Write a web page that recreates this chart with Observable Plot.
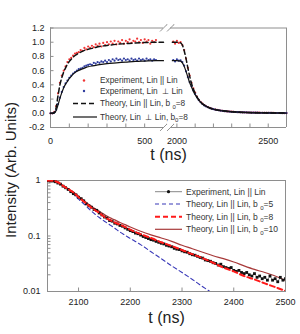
<!DOCTYPE html>
<html><head><meta charset="utf-8">
<script src="https://cdn.jsdelivr.net/npm/d3@7"></script>
<script src="https://cdn.jsdelivr.net/npm/@observablehq/plot@0.6"></script>
<style>
html,body{margin:0;padding:0;background:#fff;}
#wrap{position:relative;width:300px;height:334px;font-family:Arial,"Liberation Sans",sans-serif;color:#222;overflow:hidden;}
#top{position:absolute;left:0;top:0;}
#bot{position:absolute;left:0;top:165px;}
#ylab{position:absolute;left:10px;top:170px;transform:translate(-50%,-50%) rotate(-90deg);white-space:nowrap;font-size:15px;color:#222;}
</style></head><body>
<div id="wrap"><div id="top"></div><div id="bot"></div><div id="ylab">Intensity (Arb. Units)</div></div>
<script>
// ---------- top panel data ----------
const tL = [0,10,20,30,40,50,60,70,80,90,100,110,120,130,140,150,160,170,180,190,200,210,220,230,240,250,260,270,280,290,300,310,320,330,340,350,360,370,380,390,400,410,420,430,440,450,460,470,480,490,500,510,520,530,540,550,560];
const redL = [0.0,0.0,0.02,0.1,0.28,0.43,0.53,0.6,0.66,0.72,
  0.76,0.78,0.81,0.84,0.85,0.86,0.89,0.88,0.92,0.9,
  0.94,0.92,0.95,0.93,0.97,0.95,0.98,0.94,0.99,0.96,
  1.0,0.97,1.01,0.98,1.02,0.97,1.01,0.99,1.03,0.98,
  1.02,1.0,1.04,0.99,1.02,1.01,1.05,1.0,1.03,0.99,
  1.04,1.01,1.03,0.98,1.02,1.0,1.03];
const blueL = [0,0,0.01,0.05,0.13,0.22,0.3,0.37,0.42,0.46,
  0.5,0.53,0.56,0.58,0.6,0.62,0.63,0.64,0.66,0.67,
  0.68,0.69,0.68,0.71,0.7,0.72,0.71,0.73,0.72,0.74,
  0.72,0.75,0.73,0.76,0.74,0.77,0.75,0.76,0.74,0.77,
  0.75,0.76,0.74,0.77,0.75,0.76,0.74,0.77,0.75,0.76,
  0.74,0.77,0.75,0.76,0.74,0.76,0.75];
const tR = [1980,1990,2000,2010,2020,2030,2040,2050,2060,2070,2080,2090,2100,2110,2120,2130,2140,2150,2160,2170,2180,2190,2200,2210,2220,2230,2240,2250,2260,2270,2280,2290,2300,2310,2320,2330,2340,2350,2360,2370,2380,2390,2400,2410,2420,2430,2440,2450,2460,2470,2480,2490,2500,2510,2520,2530,2540,2550,2560,2570,2580,2590,2600];
const redR = [1.01,0.98,1.02,0.99,1.0,0.96,0.89,0.77,0.64,0.53,
  0.43,0.35,0.29,0.235,0.19,0.16,0.135,0.115,0.1,0.088,
  0.075,0.066,0.06,0.052,0.047,0.043,0.038,0.035,0.031,0.028,
  0.026,0.024,0.022,0.02,0.018,0.017,0.016,0.015,0.014,0.013,
  0.012,0.011,0.01,0.01,0.009,0.009,0.008,0.008,0.007,0.007,
  0.006,0.006,0.006,0.005,0.005,0.005,0.004,0.004,0.004,0.004,
  0.003,0.003,0.003];
const blueR = [0.75,0.73,0.76,0.74,0.745,0.72,0.67,0.59,0.51,0.44,
  0.38,0.32,0.27,0.225,0.185,0.155,0.13,0.11,0.097,0.085,
  0.074,0.065,0.058,0.051,0.046,0.042,0.037,0.034,0.03,0.028,
  0.025,0.023,0.021,0.02,0.018,0.016,0.015,0.014,0.013,0.012,
  0.012,0.011,0.01,0.009,0.009,0.008,0.008,0.007,0.007,0.007,
  0.006,0.006,0.005,0.005,0.005,0.004,0.004,0.004,0.004,0.003,
  0.003,0.003,0.003];
const thLT = [0,10,20,30,40,50,60,70,80,90,100,110,120,140,160,180,200,230,260,300,350,400,450,500,560,600];
const thParL = [0,0,0.01,0.08,0.25,0.4,0.5,0.58,0.64,0.69,0.73,0.76,0.79,0.83,0.86,0.885,0.9,0.92,0.94,0.955,0.97,0.98,0.99,0.995,1.0,1.0];
const thPerpL = [0,0,0.005,0.04,0.12,0.21,0.29,0.36,0.41,0.45,0.49,0.52,0.55,0.59,0.615,0.635,0.655,0.67,0.685,0.70,0.71,0.72,0.73,0.735,0.74,0.74];
const thRT = [1975,1990,2000,2020,2030,2040,2050,2060,2070,2080,2090,2100,2110,2120,2140,2160,2180,2200,2250,2300,2400,2500,2600];
const thParR = [1.0,1.0,1.0,0.99,0.96,0.88,0.77,0.64,0.52,0.42,0.34,0.28,0.23,0.19,0.135,0.1,0.075,0.058,0.035,0.022,0.01,0.005,0.003];
const thPerpR = [0.74,0.74,0.74,0.735,0.71,0.66,0.59,0.51,0.43,0.37,0.31,0.26,0.22,0.185,0.13,0.098,0.074,0.057,0.034,0.022,0.01,0.005,0.003];
const topXTicks = [0,100,200,300,400,500,2000,2100,2200,2300,2400,2500];
const topXLabels = [0,500,2000,2500];
const topYTicks = [-0.2,0,0.2,0.4,0.6,0.8,1.0,1.2];
const topLegend = [
  {kind:"red", main:"Experiment, Lin || Lin"},
  {kind:"blue", main:"Experiment, Lin  \u22A5 Lin"},
  {kind:"dash", main:"Theory, Lin || Lin, b ", sub:"0", tail:"=8"},
  {kind:"solid", main:"Theory, Lin  \u22A5 Lin, b", sub:"0", tail:"=8"}
];

// ---------- bottom panel data ----------
const eT = [2040,2045,2050,2055,2060,2065,2070,2075,2080,2085,2090,2095,2100,2105,2110,2115,2120,2125,2130,2135,2140,2145,2150,2155,2160,2165,2170,2175,2180,2185,2190,2195,2200,2205,2210,2215,2220,2225,2230,2235,2240,2245,2250,2255,2260,2265,2270,2275,2280,2285,2290,2295,2300,2305,2310,2315,2320,2325,2330,2335,2340,2345,2350,2355,2360,2365,2370,2375,2380,2385,2390,2395,2400,2405,2410,2415,2420,2425,2430,2435,2440,2445,2450,2455,2460,2465,2470,2475,2480,2485,2490,2495,2500];
const eV = [1.0,0.98,0.98,0.95,0.90,0.86,0.79,0.74,0.69,0.63,
  0.58,0.55,0.50,0.47,0.43,0.38,0.35,0.33,0.30,0.29,
  0.26,0.24,0.22,0.21,0.19,0.185,0.17,0.165,0.155,0.15,
  0.14,0.132,0.125,0.12,0.113,0.11,0.104,0.098,0.094,0.09,
  0.086,0.084,0.080,0.077,0.074,0.072,0.068,0.066,0.064,0.060,
  0.058,0.057,0.054,0.052,0.051,0.048,0.046,0.045,0.043,0.041,
  0.040,0.037,0.036,0.035,0.033,0.032,0.030,0.031,0.028,0.027,
  0.026,0.027,0.024,0.023,0.024,0.022,0.021,0.022,0.020,0.019,
  0.021,0.018,0.019,0.017,0.018,0.016,0.019,0.016,0.017,0.015,
  0.018,0.016,0.017];
const bT = [2040,2050,2060,2070,2080,2090,2100,2110,2120,2130,2140,2150,2160,2170,2180,2190,2200,2220,2240,2260,2280,2300,2320,2340,2360,2380,2400,2420,2440,2460,2480,2500];
const b8 = [1.0,0.99,0.93,0.80,0.70,0.61,0.50,0.42,0.35,0.30,0.26,0.22,0.195,0.175,0.16,0.145,0.13,0.108,0.092,0.077,0.066,0.056,0.047,0.040,0.033,0.027,0.023,0.019,0.0165,0.014,0.012,0.0102];
const b10 = [1.0,0.99,0.94,0.81,0.71,0.62,0.52,0.44,0.37,0.32,0.28,0.245,0.215,0.195,0.175,0.16,0.145,0.122,0.105,0.092,0.08,0.068,0.059,0.051,0.044,0.039,0.034,0.029,0.025,0.022,0.019,0.0158];
const b5 = [1.0,0.99,0.93,0.79,0.68,0.57,0.46,0.38,0.31,0.255,0.215,0.185,0.16,0.138,0.118,0.103,0.09,0.07,0.052,0.039,0.029,0.022,0.0165,0.0122,0.0092];
const botXTicks = [2100,2200,2300,2400,2500];
const botYTicks = [0.01,0.02,0.03,0.04,0.05,0.06,0.07,0.08,0.09,0.1,0.2,0.3,0.4,0.5,0.6,0.7,0.8,0.9,1];
const botYLabels = [0.01,0.1,1];
const botLegend = [
  {kind:"exp", main:"Experiment, Lin || Lin"},
  {kind:"b5", main:"Theory, Lin || Lin, b ", sub:"0", tail:"=5"},
  {kind:"b8", main:"Theory, Lin || Lin, b ", sub:"0", tail:"=8"},
  {kind:"b10", main:"Theory, Lin || Lin, b ", sub:"0", tail:"=10"}
];

// ---------- styles ----------
const FRAME = "#8e8e8e", TXT = "#222";
const RED = "#f03535", BLUE = "#2f3d9e";
const C5 = "#3838b8", C8 = "#ff1a1a", C10 = "#a83a3a";
const FONT = "Arial, 'Liberation Sans', sans-serif";
const zip = (t, v) => t.map((d, i) => ({t: d, v: v[i]})).filter(d => d.v != null && d.t != null);

const breaks = [{x:600,y:1.2},{x:1965,y:1.2},{x:600,y:-0.2},{x:1965,y:-0.2}];

const topPlot = Plot.plot({
  width: 300, height: 165,
  marginLeft: 50, marginRight: 14, marginTop: 27.5, marginBottom: 38,
  style: {fontFamily: FONT, fontSize: "9px", background: "white", color: TXT},
  x: {type: "linear", domain: [0, 600, 1965, 2600], range: [50, 163, 170, 286], label: null},
  y: {domain: [-0.2, 1.2], label: null},
  marks: [
    Plot.ruleX([0, 2600], {stroke: FRAME}),
    Plot.ruleY([-0.2, 1.2], {x1: 0, x2: 600, stroke: FRAME}),
    Plot.ruleY([-0.2, 1.2], {x1: 1965, x2: 2600, stroke: FRAME}),
    Plot.vector(breaks, {x: "x", y: "y", length: 9, rotate: 45, anchor: "middle", r: 0, stroke: FRAME, strokeWidth: 0.9}),
    Plot.axisY(topYTicks, {label: null, tickSize: -3.5, tickPadding: 9.5, tickFormat: d => d.toFixed(1), stroke: FRAME, fill: TXT}),
    Plot.axisX(topXTicks, {label: null, tickSize: -3.5, tickPadding: 13.5, tickFormat: d => topXLabels.includes(d) ? String(d) : "", stroke: FRAME, fill: TXT}),
    Plot.dot(zip(tL, redL), {x: "t", y: "v", r: 1.1, fill: RED}),
    Plot.dot(zip(tL, blueL), {x: "t", y: "v", r: 1.1, fill: BLUE}),
    Plot.dot(zip(tR, redR), {x: "t", y: "v", r: 1.1, fill: RED}),
    Plot.dot(zip(tR, blueR), {x: "t", y: "v", r: 1.1, fill: BLUE}),
    Plot.line(zip(thLT, thParL), {x: "t", y: "v", stroke: "#111", strokeWidth: 1.5, strokeDasharray: "5,3", curve: "monotone-x"}),
    Plot.line(zip(thRT, thParR), {x: "t", y: "v", stroke: "#111", strokeWidth: 1.5, strokeDasharray: "5,3", curve: "monotone-x"}),
    Plot.line(zip(thLT, thPerpL), {x: "t", y: "v", stroke: "#111", strokeWidth: 1.2, curve: "monotone-x"}),
    Plot.line(zip(thRT, thPerpR), {x: "t", y: "v", stroke: "#111", strokeWidth: 1.2, curve: "monotone-x"}),
    Plot.text(["t (ns)"], {frameAnchor: "bottom", dy: 32, fontSize: 16, fill: TXT})
  ]
});
document.getElementById("top").appendChild(topPlot);

const botPlot = Plot.plot({
  width: 300, height: 169,
  marginLeft: 47, marginRight: 15, marginTop: 15, marginBottom: 43,
  style: {fontFamily: FONT, fontSize: "9px", background: "white", color: TXT},
  x: {domain: [2040, 2500], label: null},
  y: {type: "log", domain: [0.01, 1], label: null},
  marks: [
    Plot.frame({stroke: FRAME}),
    Plot.axisY(botYTicks, {label: null, tickSize: -3.5, tickPadding: 10.5, tickFormat: d => botYLabels.includes(d) ? String(d) : "", stroke: FRAME, fill: TXT}),
    Plot.axisX(botXTicks, {label: null, tickSize: -3.5, tickPadding: 11, tickFormat: d => String(d), stroke: FRAME, fill: TXT}),
    Plot.line(zip(bT, b10), {x: "t", y: "v", stroke: C10, strokeWidth: 1.2, curve: "monotone-x", clip: true}),
    Plot.line(zip(bT, b5), {x: "t", y: "v", stroke: C5, strokeWidth: 1.1, strokeDasharray: "4,3", curve: "monotone-x", clip: true}),
    Plot.line(zip(eT, eV), {x: "t", y: "v", stroke: "#555", strokeWidth: 0.6, clip: true}),
    Plot.dot(zip(eT, eV), {x: "t", y: "v", symbol: "square", r: 1.6, fill: "#111", clip: true}),
    Plot.line(zip(bT, b8), {x: "t", y: "v", stroke: C8, strokeWidth: 2, strokeDasharray: "5,3", curve: "monotone-x", clip: true}),
    Plot.text(["t (ns)"], {frameAnchor: "bottom", dy: 31.5, fontSize: 16, fill: TXT})
  ]
});
document.getElementById("bot").appendChild(botPlot);

// ---------- legends ----------
function legendText(g, x, y, item, size) {
  const t = g.append("text").attr("x", x).attr("y", y).attr("dy", "0.35em")
    .attr("text-anchor", "start")
    .attr("font-size", size).attr("fill", "#333").attr("font-family", FONT)
    .style("white-space", "pre");
  t.append("tspan").text(item.main);
  if (item.sub != null) {
    t.append("tspan").attr("font-size", size * 0.72).attr("dy", size * 0.3).text(item.sub);
    t.append("tspan").attr("dy", -size * 0.3).text(item.tail);
  }
}
{
  const g = d3.select(topPlot).append("g").attr("text-anchor", "start");
  const rows = [80.5, 91, 103.5, 117];
  topLegend.forEach((it, i) => {
    const y = rows[i];
    if (it.kind === "red" || it.kind === "blue") {
      g.append("circle").attr("cx", 84).attr("cy", y).attr("r", 1.2).attr("fill", it.kind === "red" ? RED : BLUE);
    } else {
      g.append("line").attr("x1", 73).attr("x2", 97).attr("y1", y).attr("y2", y)
        .attr("stroke", "#111").attr("stroke-width", it.kind === "dash" ? 1.5 : 1.2)
        .attr("stroke-dasharray", it.kind === "dash" ? "5,3" : null);
    }
    legendText(g, 100, y, it, 8.3);
  });
}
{
  const g = d3.select(botPlot).append("g").attr("text-anchor", "start");
  const rows = [26.7, 39, 51.7, 64.3];
  botLegend.forEach((it, i) => {
    const y = rows[i];
    const ln = g.append("line").attr("x1", 155).attr("x2", 182).attr("y1", y).attr("y2", y);
    if (it.kind === "exp") {
      ln.attr("stroke", "#555").attr("stroke-width", 0.7);
      g.append("circle").attr("cx", 168.5).attr("cy", y).attr("r", 1.6).attr("fill", "#111");
    } else if (it.kind === "b5") {
      ln.attr("stroke", C5).attr("stroke-width", 1.1).attr("stroke-dasharray", "4,3");
    } else if (it.kind === "b8") {
      ln.attr("stroke", C8).attr("stroke-width", 2).attr("stroke-dasharray", "5,3");
    } else {
      ln.attr("stroke", C10).attr("stroke-width", 1.2);
    }
    legendText(g, 186, y, it, 8.5);
  });
}
</script></body></html>
